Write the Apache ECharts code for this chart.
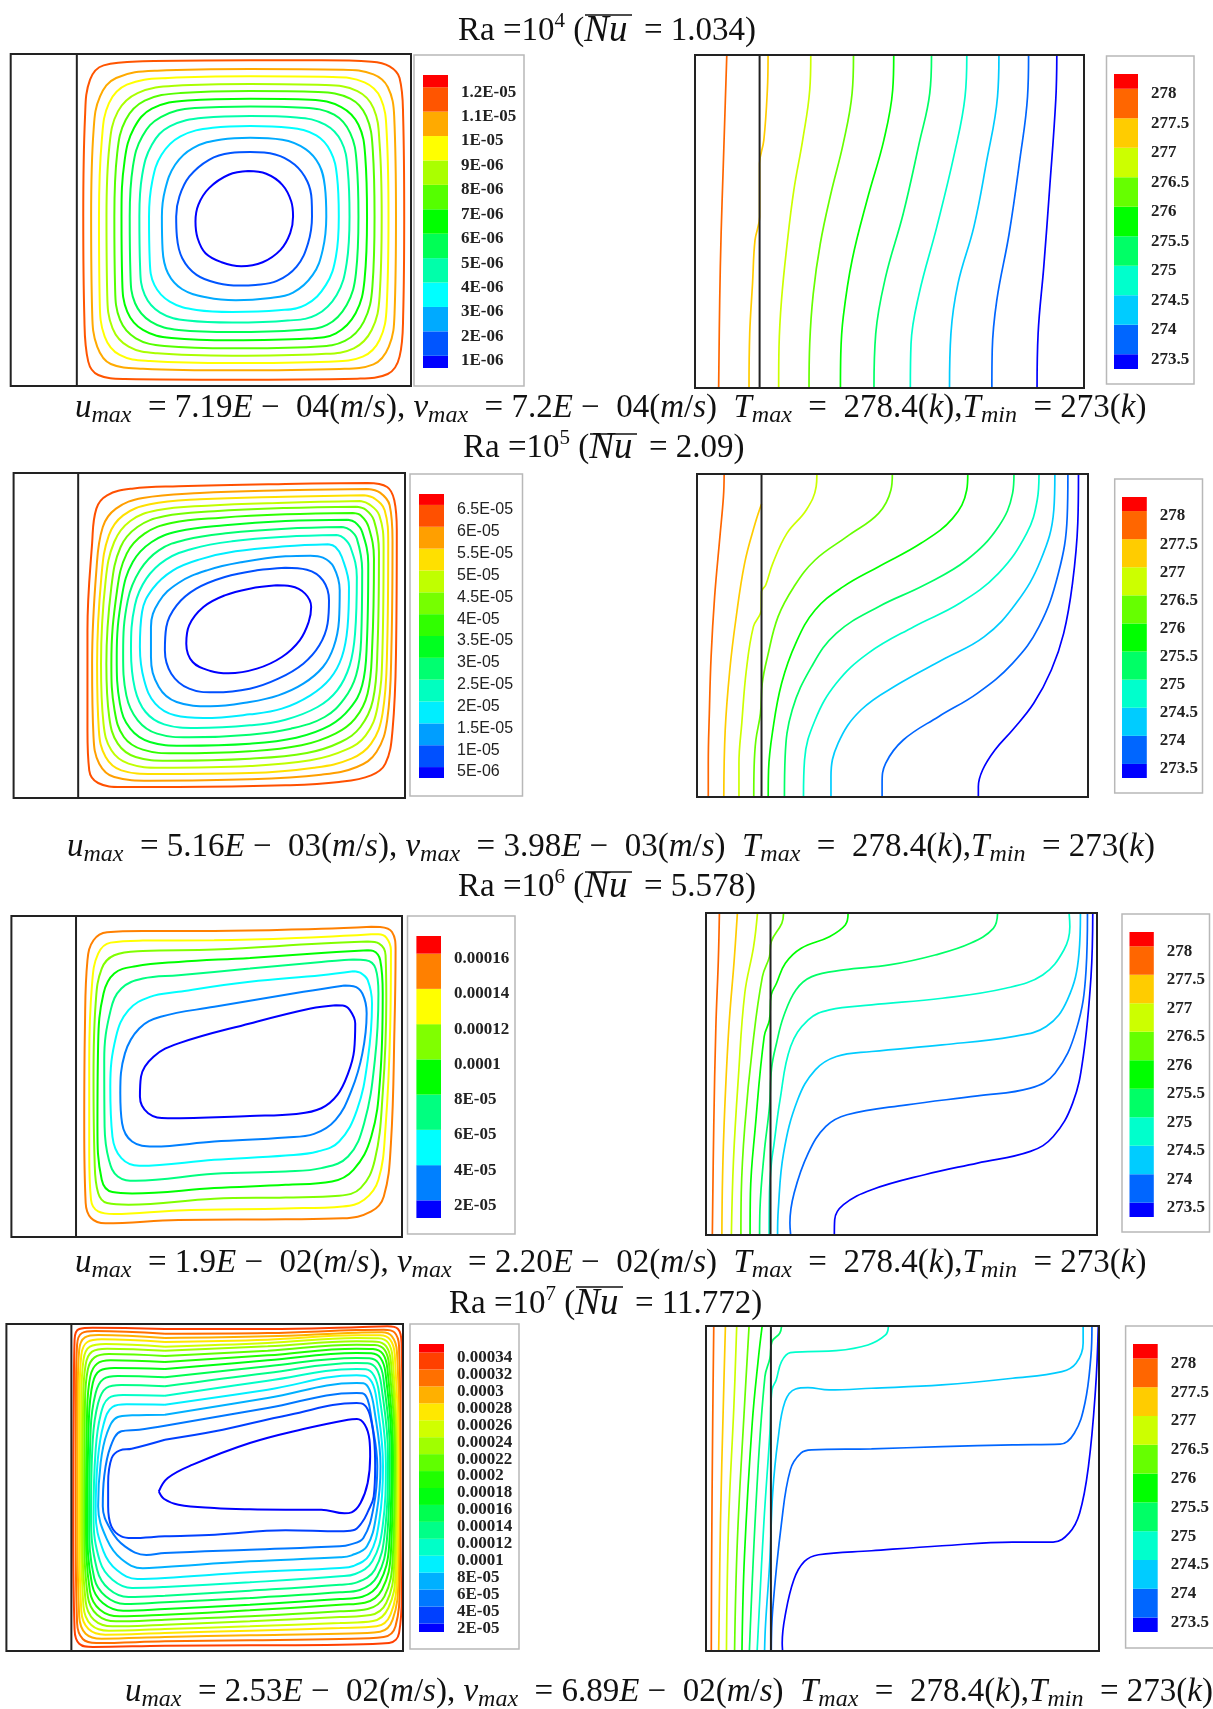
<!DOCTYPE html>
<html><head><meta charset="utf-8"><title>Streamlines and isotherms</title>
<script src="https://cdn.jsdelivr.net/npm/echarts@6/dist/echarts.min.js"></script>
<style>html,body{margin:0;padding:0;background:#fff}#c{width:1213px;height:1709px}</style></head>
<body><div id="c"></div>
<script>
// ---- contour data (arbitrary read-off units, y grows downward) ----
const stream1 = [
[[700,182],[900,182],[1040,186],[1090,200],[1118,235],[1128,350],[1131,650],[1128,950],[1118,1070],[1085,1122],[1000,1136],[650,1139],[350,1137],[275,1125],[247,1085],[236,950],[233,650],[238,350],[252,240],[290,197],[400,185],[700,182]],
[[700,208],[960,210],[1045,224],[1085,262],[1103,350],[1108,650],[1104,940],[1088,1040],[1045,1093],[950,1107],[650,1111],[400,1106],[310,1092],[272,1040],[258,940],[255,650],[262,390],[280,290],[325,235],[440,213],[700,208]],
[[700,230],[930,232],[1020,248],[1065,295],[1082,400],[1087,650],[1082,920],[1062,1020],[1015,1070],[920,1085],[650,1089],[420,1083],[335,1065],[293,1010],[279,900],[277,650],[285,420],[305,310],[355,255],[470,235],[700,230]],
[[700,253],[910,256],[1000,274],[1045,325],[1062,430],[1068,650],[1062,890],[1040,990],[990,1045],[900,1062],[650,1067],[440,1060],[360,1040],[315,985],[300,880],[298,650],[306,440],[330,335],[385,280],[490,258],[700,253]],
[[700,274],[890,277],[980,297],[1025,350],[1043,450],[1048,650],[1042,860],[1018,965],[965,1023],[880,1040],[650,1045],[460,1038],[380,1015],[336,960],[322,860],[320,650],[328,460],[352,360],[405,303],[505,280],[700,274]],
[[700,297],[870,300],[955,322],[1003,375],[1022,470],[1027,650],[1020,840],[995,940],[940,1000],[860,1016],[650,1021],[480,1014],[400,990],[356,935],[342,840],[340,650],[349,480],[375,385],[425,327],[525,302],[700,297]],
[[700,320],[850,324],[935,345],[980,400],[998,490],[1003,650],[996,820],[970,915],[915,975],[835,990],[650,996],[500,990],[422,965],[378,910],[365,820],[363,650],[372,500],[398,410],[450,352],[545,325],[700,320]],
[[700,349],[830,353],[910,375],[955,425],[973,510],[978,650],[970,790],[942,885],[885,945],[805,962],[650,968],[525,962],[448,938],[405,885],[392,800],[390,650],[398,525],[425,435],[475,380],[570,354],[700,349]],
[[700,379],[810,384],[885,407],[925,455],[943,530],[948,650],[940,770],[912,855],[855,915],[780,931],[650,936],[550,930],[475,905],[432,855],[419,780],[417,650],[426,545],[452,465],[505,410],[595,384],[700,379]],
[[700,414],[790,420],[855,448],[893,495],[909,560],[913,650],[903,750],[875,825],[820,878],[750,895],[660,901],[580,893],[510,868],[470,820],[455,750],[453,650],[462,570],[490,495],[540,445],[620,419],[700,414]],
[[700,457],[770,464],[825,495],[860,545],[872,600],[873,650],[862,730],[830,800],[775,843],[715,855],[670,857],[610,850],[550,825],[510,775],[495,710],[493,650],[502,590],[530,530],[585,480],[645,460],[700,457]],
[[695,514],[745,522],[790,555],[815,605],[820,650],[812,700],[785,750],[735,787],[675,799],[620,787],[575,760],[553,715],[547,665],[555,615],[585,565],[640,525],[695,514]]
];
const temp1 = [
[[190,167],[186,300],[180,500],[174,700],[170,900],[167,1162]],
[[307,167],[305,270],[295,420],[283,490],[283,650],[270,720],[263,850],[255,1000],[253,1162]],
[[428,167],[425,270],[405,420],[380,570],[360,740],[345,900],[338,1040],[337,1162]],
[[549,167],[545,280],[520,430],[485,580],[455,730],[435,880],[425,1030],[423,1162]],
[[663,167],[660,270],[635,420],[590,590],[545,780],[520,950],[513,1060],[512,1162]],
[[770,167],[765,280],[735,430],[690,640],[640,830],[612,1000],[607,1162]],
[[870,167],[865,290],[835,460],[785,680],[735,880],[712,1030],[710,1162]],
[[961,167],[957,290],[925,490],[890,680],[845,850],[825,1000],[821,1162]],
[[1045,167],[1042,290],[1020,480],[990,700],[955,900],[942,1050],[941,1162]],
[[1125,167],[1122,300],[1105,560],[1088,800],[1072,1000],[1069,1162]]
];
const stream2 = [
[[1030,158],[800,161],[500,168],[370,175],[300,195],[270,235],[258,340],[245,600],[245,900],[250,1020],[275,1058],[340,1070],[500,1070],[800,1065],[950,1055],[1040,1035],[1080,1000],[1100,900],[1110,650],[1112,300],[1105,210],[1085,170],[1030,158]],
[[1030,176],[800,180],[560,188],[400,203],[325,235],[288,290],[270,420],[258,700],[262,920],[278,1000],[320,1040],[420,1051],[700,1047],[900,1033],[1000,1010],[1055,965],[1085,870],[1097,650],[1100,330],[1092,225],[1065,187],[1030,176]],
[[1020,195],[800,199],[560,207],[420,222],[345,255],[305,315],[284,440],[272,700],[277,900],[296,980],[340,1020],[430,1031],[700,1028],[880,1012],[985,985],[1040,940],[1072,850],[1085,650],[1088,340],[1078,240],[1050,205],[1020,195]],
[[1010,212],[800,217],[580,226],[440,240],[365,272],[320,335],[296,450],[283,700],[290,880],[312,960],[360,1000],[450,1012],[700,1007],[870,990],[970,958],[1025,915],[1058,830],[1072,650],[1075,350],[1063,255],[1035,222],[1010,212]],
[[1000,229],[800,233],[600,243],[460,258],[385,290],[338,350],[312,470],[298,700],[306,860],[330,940],[380,980],[470,991],[700,985],[860,968],[955,935],[1010,890],[1045,810],[1058,650],[1062,365],[1048,270],[1025,238],[1000,229]],
[[990,248],[800,252],[620,262],[480,278],[405,310],[355,370],[328,480],[312,700],[321,840],[347,920],[400,958],[490,969],[700,963],[845,945],[940,910],[995,865],[1030,790],[1043,650],[1048,385],[1033,290],[1012,256],[990,248]],
[[975,268],[800,272],[630,285],[500,303],[425,335],[372,395],[342,495],[327,680],[336,820],[365,895],[420,935],[510,946],[700,940],[830,922],[925,885],[980,835],[1015,765],[1028,640],[1032,400],[1015,305],[995,276],[975,268]],
[[960,290],[800,295],[640,308],[520,328],[445,360],[392,420],[358,510],[345,670],[354,795],[386,870],[440,910],[530,921],[700,913],[815,895],[910,860],[965,805],[998,735],[1012,630],[1015,420],[1000,325],[980,298],[960,290]],
[[945,314],[800,319],[650,333],[540,355],[465,388],[410,445],[378,525],[367,660],[378,775],[408,845],[460,882],[550,893],[700,885],[800,868],[890,830],[945,780],[980,705],[995,610],[1000,440],[982,350],[962,322],[945,314]],
[[920,342],[800,348],[660,363],[560,387],[485,420],[428,475],[398,545],[392,650],[404,750],[435,820],[490,855],[570,863],[700,852],[790,835],[870,795],[925,745],[958,680],[974,590],[978,470],[958,380],[940,350],[920,342]],
[[870,376],[800,378],[680,395],[580,420],[500,458],[445,515],[423,590],[423,680],[445,770],[495,815],[590,828],[700,815],[780,795],[850,760],[905,710],[935,650],[950,570],[952,480],[935,410],[905,382],[870,376]],
[[800,412],[720,420],[630,440],[550,475],[495,525],[466,590],[462,660],[480,730],[530,775],[600,786],[700,775],[780,745],[850,700],[895,645],[918,580],[922,510],[905,450],[860,418],[800,412]],
[[775,465],[700,475],[630,495],[570,530],[530,585],[522,640],[540,695],[590,722],[640,729],[720,715],[790,680],[840,630],[865,575],[872,530],[855,490],[815,468],[775,465]]
];
const temp2 = [
[[182,134],[180,200],[170,320],[155,500],[145,680],[140,850],[137,1000],[137,1100]],
[[288,222],[270,280],[240,400],[215,570],[198,720],[185,900],[181,1100]],
[[445,134],[443,170],[415,240],[360,310],[320,400],[300,465],[288,485],[287,540],[265,590],[245,720],[232,880],[224,1000],[224,1100]],
[[659,134],[655,180],[620,250],[530,320],[440,390],[380,470],[335,560],[305,680],[290,760],[285,850],[272,930],[267,1010],[266,1100]],
[[873,134],[870,180],[830,265],[740,340],[620,410],[520,470],[440,540],[385,640],[345,760],[320,900],[308,1020],[307,1100]],
[[1004,134],[1000,190],[960,290],[870,390],[750,465],[620,530],[500,610],[430,710],[375,840],[355,980],[353,1100]],
[[1075,134],[1070,210],[1040,310],[960,430],[850,520],[720,590],[590,670],[500,760],[440,870],[410,990],[407,1100]],
[[1120,134],[1117,240],[1080,390],[1010,520],[920,620],[800,690],[680,760],[570,840],[505,940],[485,1040],[485,1100]],
[[1157,134],[1155,260],[1130,430],[1075,590],[1000,700],[900,790],[790,860],[690,930],[640,1000],[630,1060],[630,1100]],
[[1187,134],[1185,280],[1170,460],[1145,610],[1110,720],[1060,820],[1000,900],[950,960],[915,1020],[903,1070],[903,1100]]
];
const stream3 = [
[[1040,199],[900,205],[600,212],[400,212],[300,216],[262,240],[245,300],[238,500],[236,800],[240,1030],[255,1075],[295,1091],[500,1081],[800,1079],[960,1076],[1040,1055],[1075,1010],[1095,850],[1105,500],[1108,270],[1098,215],[1065,200],[1040,199]],
[[1040,222],[900,230],[600,240],[400,241],[310,247],[275,280],[258,370],[250,600],[250,880],[255,1020],[275,1055],[320,1063],[500,1052],[800,1046],[960,1040],[1020,1020],[1060,960],[1080,800],[1093,500],[1095,270],[1082,232],[1060,222],[1040,222]],
[[1030,244],[900,250],[600,268],[400,272],[320,285],[285,325],[268,430],[262,650],[265,900],[275,1000],[300,1030],[360,1035],[600,1017],[800,1013],[950,1008],[1010,985],[1050,900],[1072,700],[1082,420],[1080,285],[1062,250],[1030,244]],
[[1030,270],[900,278],[700,293],[500,305],[380,318],[320,340],[290,400],[275,550],[273,800],[285,960],[315,997],[370,1001],[600,985],[800,975],[930,965],[990,930],[1040,830],[1065,650],[1072,400],[1065,300],[1045,272],[1030,270]],
[[990,298],[900,305],[700,325],[500,345],[400,355],[340,385],[310,450],[292,600],[293,800],[305,900],[330,950],[380,963],[600,942],[800,935],[900,925],[975,890],[1020,790],[1050,600],[1060,400],[1052,325],[1025,300],[990,298]],
[[990,333],[900,345],[700,365],[500,395],[420,410],[360,450],[325,530],[309,680],[315,830],[340,895],[390,918],[600,900],[800,887],[890,875],[950,845],[1000,750],[1030,600],[1042,430],[1030,360],[1010,338],[990,333]],
[[965,376],[850,395],[600,440],[450,470],[390,505],[350,580],[337,700],[342,790],[370,845],[430,860],[600,845],[800,833],[880,822],[940,780],[985,690],[1015,580],[1027,460],[1015,400],[990,378],[965,376]],
[[940,435],[870,445],[700,490],[500,550],[430,590],[395,650],[392,710],[415,760],[470,775],[700,768],[830,762],[900,745],[945,705],[975,640],[992,570],[995,490],[980,450],[960,436],[940,435]]
];
const temp3 = [
[[168,160],[165,300],[158,500],[152,800],[148,1125]],
[[219,160],[210,300],[195,500],[183,750],[177,950],[175,1125]],
[[276,160],[265,260],[240,400],[222,650],[208,900],[202,1125]],
[[350,160],[345,190],[315,245],[310,290],[290,350],[262,560],[240,800],[230,1000],[229,1125]],
[[533,160],[525,195],[480,230],[400,265],[355,310],[330,370],[315,405],[310,480],[295,530],[270,800],[256,1000],[255,1125]],
[[957,160],[945,205],[880,250],[780,285],[650,315],[520,330],[430,350],[385,390],[350,470],[330,550],[316,625],[310,740],[295,880],[283,1050],[282,1125]],
[[1160,160],[1162,200],[1145,270],[1085,345],[980,385],[800,415],[600,435],[480,450],[420,480],[370,560],[340,720],[322,860],[316,905],[310,1000],[309,1125]],
[[1192,160],[1188,280],[1155,420],[1095,500],[1000,530],[800,555],[600,575],[500,590],[440,630],[390,720],[350,880],[335,1050],[333,1125]],
[[1212,160],[1208,330],[1180,510],[1120,640],[1050,685],[900,708],[700,735],[530,765],[470,800],[420,880],[380,1000],[368,1090],[370,1125]],
[[1227,160],[1222,350],[1200,590],[1170,730],[1115,830],[1050,875],[900,910],[750,945],[600,990],[520,1035],[495,1080],[494,1125]]
];
const stream4 = [
[[462,118],[750,118],[999,113],[1085,110],[1115,118],[1125,160],[1128,500],[1126,900],[1118,1030],[1090,1060],[952,1065],[700,1067],[462,1068],[260,1072],[222,1062],[209,1020],[205,700],[207,300],[209,150],[222,118],[260,114],[462,118]],
[[462,132],[750,130],[999,121],[1075,120],[1105,128],[1118,170],[1122,500],[1120,880],[1108,1010],[1075,1042],[952,1048],[700,1052],[462,1055],[270,1060],[232,1048],[216,1000],[212,700],[213,300],[216,165],[230,130],[265,124],[462,132]],
[[462,145],[750,140],[999,129],[1070,128],[1098,140],[1112,185],[1119,500],[1116,870],[1100,990],[1065,1026],[952,1032],[700,1037],[462,1042],[285,1047],[240,1032],[222,980],[217,700],[218,300],[222,180],[238,143],[275,136],[462,145]],
[[462,157],[750,150],[999,137],[1065,137],[1093,150],[1106,195],[1116,500],[1112,860],[1094,975],[1055,1010],[952,1015],[700,1023],[462,1030],[295,1035],[248,1018],[228,965],[222,700],[223,320],[228,195],[245,157],[285,149],[462,157]],
[[462,171],[750,160],[999,145],[1060,146],[1088,160],[1100,205],[1112,500],[1108,850],[1088,955],[1045,994],[952,1000],[700,1010],[462,1018],[305,1023],[255,1005],[234,950],[227,700],[228,330],[234,210],[252,171],[295,163],[462,171]],
[[462,183],[750,170],[999,155],[1055,156],[1082,170],[1095,215],[1109,500],[1104,830],[1082,940],[1038,976],[952,982],[700,995],[462,1005],[315,1010],[263,990],[240,935],[231,700],[233,340],[240,225],[258,186],[300,177],[462,183]],
[[462,199],[750,183],[999,165],[1050,166],[1077,180],[1090,225],[1106,500],[1100,810],[1077,920],[1030,958],[952,965],[700,980],[462,990],[325,995],[272,975],[246,920],[236,700],[238,350],[246,240],[265,203],[305,193],[462,199]],
[[462,217],[750,197],[999,177],[1045,178],[1072,192],[1085,235],[1101,500],[1095,790],[1070,900],[1022,939],[952,945],[700,962],[462,975],[335,980],[280,960],[252,905],[241,700],[244,370],[253,260],[272,222],[310,212],[462,217]],
[[462,238],[750,212],[999,190],[1040,191],[1066,205],[1080,250],[1097,500],[1090,770],[1063,880],[1015,921],[952,928],[700,945],[462,958],[345,963],[288,940],[258,885],[245,700],[249,390],[260,280],[280,243],[320,235],[462,238]],
[[462,263],[750,230],[999,205],[1035,206],[1060,220],[1074,265],[1092,500],[1084,750],[1057,860],[1008,901],[952,908],[700,925],[462,938],[350,943],[296,920],[264,865],[250,700],[254,420],[268,310],[290,268],[330,259],[462,263]],
[[462,290],[750,250],[999,220],[1030,221],[1055,238],[1068,285],[1087,500],[1078,730],[1050,840],[1000,878],[952,885],[700,903],[462,918],[360,922],[305,898],[272,840],[255,680],[260,450],[275,340],[298,295],[340,286],[462,290]],
[[462,318],[750,273],[999,238],[1025,239],[1048,258],[1062,310],[1081,520],[1072,710],[1043,815],[995,853],[952,860],[700,878],[462,892],[370,895],[315,870],[280,815],[262,680],[268,480],[282,375],[305,325],[345,316],[462,318]],
[[462,345],[750,300],[999,257],[1020,258],[1042,278],[1055,330],[1073,530],[1063,690],[1035,795],[990,829],[952,835],[700,848],[462,865],[385,868],[328,842],[290,785],[268,670],[274,510],[290,405],[315,352],[355,344],[462,345]],
[[462,375],[750,325],[999,280],[1018,281],[1035,300],[1048,355],[1066,530],[1055,670],[1028,770],[985,797],[952,803],[700,815],[462,832],[400,836],[340,808],[300,750],[275,650],[282,520],[300,430],[330,382],[370,377],[462,375]],
[[462,408],[750,355],[999,310],[1015,311],[1030,330],[1040,385],[1057,530],[1047,650],[1018,745],[980,765],[952,770],[700,780],[462,790],[410,796],[350,770],[310,720],[288,650],[292,560],[310,470],[340,425],[390,420],[462,408]],
[[462,450],[602,425],[812,375],[999,340],[1020,345],[1036,375],[1048,450],[1051,530],[1047,620],[1031,665],[1013,700],[989,722],[952,725],[800,722],[602,735],[462,740],[369,745],[340,740],[312,710],[303,650],[303,580],[313,505],[336,482],[369,477],[462,450]],
[[445,605],[470,565],[540,525],[700,460],[850,418],[975,390],[1000,388],[1022,405],[1035,450],[1037,500],[1030,580],[1010,640],[985,668],[965,671],[900,660],[800,660],[700,659],[600,655],[500,645],[460,628],[445,605]]
];
const temp4 = [
[[153,110],[150,400],[147,800],[146,1083]],
[[186,110],[180,350],[172,700],[167,1083]],
[[218,110],[210,350],[195,700],[189,1083]],
[[253,110],[240,350],[220,750],[212,1083]],
[[290,110],[280,200],[262,400],[240,800],[233,1083]],
[[345,110],[340,130],[318,155],[312,205],[298,260],[275,600],[254,1083]],
[[648,110],[640,135],[590,165],[500,182],[420,185],[370,188],[345,215],[330,270],[318,300],[312,430],[295,700],[276,1083]],
[[1200,110],[1200,160],[1180,220],[1140,245],[1000,265],[800,285],[600,295],[480,300],[420,293],[385,297],[355,335],[335,450],[320,610],[312,810],[300,1000],[297,1083]],
[[1225,110],[1222,200],[1205,340],[1175,430],[1135,463],[1000,465],[800,470],[600,477],[430,480],[400,490],[370,540],[345,700],[320,960],[316,1083]],
[[1243,110],[1235,300],[1215,530],[1190,670],[1160,730],[1115,757],[1000,757],[800,768],[600,783],[450,795],[410,815],[380,870],[355,980],[347,1060],[348,1083]]
];

// ---- colour-bar levels and tick labels ----
const levels1 = [1e-6,2e-6,3e-6,4e-6,5e-6,6e-6,7e-6,8e-6,9e-6,1e-5,1.1e-5,1.2e-5];
const labels1 = ['1E-06','2E-06','3E-06','4E-06','5E-06','6E-06','7E-06','8E-06','9E-06','1E-05','1.1E-05','1.2E-05'];
const levels2 = [5e-6,1e-5,1.5e-5,2e-5,2.5e-5,3e-5,3.5e-5,4e-5,4.5e-5,5e-5,5.5e-5,6e-5,6.5e-5];
const labels2 = ['5E-06','1E-05','1.5E-05','2E-05','2.5E-05','3E-05','3.5E-05','4E-05','4.5E-05','5E-05','5.5E-05','6E-05','6.5E-05'];
const levels3 = [2e-5,4e-5,6e-5,8e-5,1e-4,1.2e-4,1.4e-4,1.6e-4];
const labels3 = ['2E-05','4E-05','6E-05','8E-05','0.0001','0.00012','0.00014','0.00016'];
const levels4 = [2e-5,4e-5,6e-5,8e-5,1e-4,1.2e-4,1.4e-4,1.6e-4,1.8e-4,2e-4,2.2e-4,2.4e-4,2.6e-4,2.8e-4,3e-4,3.2e-4,3.4e-4];
const labels4 = ['2E-05','4E-05','6E-05','8E-05','0.0001','0.00012','0.00014','0.00016','0.00018','0.0002','0.00022','0.00024','0.00026','0.00028','0.0003','0.00032','0.00034'];
const levelsT = [273.5,274,274.5,275,275.5,276,276.5,277,277.5,278];
const labelsT = ['273.5','274','274.5','275','275.5','276','276.5','277','277.5','278'];

const colors1 = ['#0000ff','#0055ff','#00aaff','#00ffff','#00ffaa','#00ff55','#00ff00','#55ff00','#aaff00','#ffff00','#ffaa00','#ff5500','#ff0000'];
const colors2 = ['#0000ff','#0050ff','#009eff','#00eeff','#00ffc0','#00ff70','#00ff20','#30ff00','#76ff00','#c0ff00','#ffe000','#ff9f00','#ff5000','#ff0000'];
const colors3 = ['#0000ff','#0080ff','#00ffff','#00ff80','#00ff00','#80ff00','#ffff00','#ff8000','#ff0000'];
const colors4 = ['#0000ff','#0040ff','#0078ff','#00b0ff','#00f0ff','#00ffc8','#00ff88','#00ff50','#00ff10','#20ff00','#60ff00','#a0ff00','#d0ff00','#ffe800','#ffb000','#ff7000','#ff4000','#ff0000'];
const colorsT = ['#0000ff','#0066ff','#00ccff','#00ffcc','#00ff66','#00ff00','#66ff00','#ccff00','#ffcc00','#ff6600','#ff0000'];

// ---- layout: plots as [left,top,right,bottom], read-off extents, wall position ----
const panels = [
 {lines:stream1,cols:colors1,px:[10.7,54,411,386],ext:[30,1150,163,1158],wall:215},
 {lines:temp1,cols:colorsT,px:[695,55,1084,388],ext:[100,1202,165,1163],wall:283},
 {lines:stream2,cols:colors2,px:[13.6,473,405,798],ext:[38,1135,128,1103],wall:219},
 {lines:temp2,cols:colorsT,px:[697,474,1088,797],ext:[105,1214,132,1101],wall:288},
 {lines:stream3,cols:colors3,px:[11.4,916,402,1237],ext:[32,1126,167,1132],wall:213},
 {lines:temp3,cols:colorsT,px:[706,913,1097,1235],ext:[130,1239,159,1126],wall:313},
 {lines:stream4,cols:colors4,px:[6.4,1324,403,1651],ext:[18,1129,103,1084],wall:200},
 {lines:temp4,cols:colorsT,px:[706,1326,1099,1651],ext:[131,1245,108,1084],wall:315}
];
const bars = [
 {lv:levels1,lb:labels1,cols:colors1,frame:[414,55,524,386],bar:[423,75,448,368],font:'Liberation Serif',w:'bold',fs:17},
 {lv:levelsT,lb:labelsT,cols:colorsT,frame:[1106.5,56,1194,384],bar:[1114,74,1138,369],font:'Liberation Serif',w:'bold',fs:17},
 {lv:levels2,lb:labels2,cols:colors2,frame:[410,474,522.5,796],bar:[419,494,444,778],font:'Liberation Sans',w:'normal',fs:16},
 {lv:levelsT,lb:labelsT,cols:colorsT,frame:[1114.7,479,1202.5,793],bar:[1122,497,1146.8,778],font:'Liberation Serif',w:'bold',fs:17},
 {lv:levels3,lb:labels3,cols:colors3,frame:[407.5,916,515,1234],bar:[416.4,936,441,1218],font:'Liberation Serif',w:'bold',fs:17},
 {lv:levelsT,lb:labelsT,cols:colorsT,frame:[1122,914,1209.5,1232],bar:[1129.5,932,1153.8,1217],font:'Liberation Serif',w:'bold',fs:17},
 {lv:levels4,lb:labels4,cols:colors4,frame:[410,1324,519,1649],bar:[419,1344,444,1632],font:'Liberation Serif',w:'bold',fs:17},
 {lv:levelsT,lb:labelsT,cols:colorsT,frame:[1125.6,1326,1230,1648],bar:[1133,1344,1157.7,1632],font:'Liberation Serif',w:'bold',fs:17}
];

// ---- headings ----
const head = (n,nu) => `{r|Ra =10}{p|${n}}{r| (}{n|Nu}{r|  = ${nu})}`;
const headings = [
 {x:458,y:31,text:head(4,'1.034')},
 {x:463,y:448,text:head(5,'2.09')},
 {x:458,y:887,text:head(6,'5.578')},
 {x:449,y:1304,text:head(7,'11.772')}
];
const eq = (a,b,c,d) => `{i|u}{s|max}{r|  = ${a}}{i|E}{r| −  ${b}(}{i|m}{r|/}{i|s}{r|), }{i|v}{s|max}{r|  = ${c}}{i|E}{r| −  ${d}(}{i|m}{r|/}{i|s}{r|)  }{i|T}{s|max}{r|  =  278.4(}{i|k}{r|),}{i|T}{s|min}{r|  = 273(}{i|k}{r|)}`;
const notes = [
 {x:75,y:408,text:eq('7.19','04','7.2','04')},
 {x:67,y:847,text:eq('5.16','03','3.98','03')},
 {x:75,y:1263,text:eq('1.9','02','2.20','02')},
 {x:125,y:1692,text:eq('2.53','02','6.89','02')}
];
const overlines = [[585,632,15],[590,637,434],[585,632,872],[576,623,1287]];

const rich = {
 r:{fontFamily:'Liberation Serif',fontSize:33,color:'#111',lineHeight:40},
 i:{fontFamily:'Liberation Serif',fontStyle:'italic',fontSize:33,color:'#111',lineHeight:40},
 n:{fontFamily:'Liberation Serif',fontStyle:'italic',fontSize:37,color:'#111',lineHeight:40},
 s:{fontFamily:'Liberation Serif',fontStyle:'italic',fontSize:24,color:'#111',verticalAlign:'bottom'},
 p:{fontFamily:'Liberation Serif',fontSize:21,color:'#111',verticalAlign:'top'}
};
const grid=[],xAxis=[],yAxis=[],series=[],graphic=[];
panels.forEach(p=>{
 const g=grid.length;
 grid.push({left:p.px[0],top:p.px[1],width:p.px[2]-p.px[0],height:p.px[3]-p.px[1],show:true,backgroundColor:'transparent',borderColor:'#222',borderWidth:2,z:5});
 xAxis.push({type:'value',gridIndex:g,min:p.ext[0],max:p.ext[1],show:false,splitLine:{show:false}});
 yAxis.push({type:'value',gridIndex:g,min:p.ext[2],max:p.ext[3],inverse:true,show:false,splitLine:{show:false}});
 const n=p.lines.length, isT=p.cols===colorsT;
 p.lines.forEach((ln,i)=>{
  series.push({type:'line',xAxisIndex:g,yAxisIndex:g,data:ln,showSymbol:false,smooth:0.4,clip:true,silent:true,z:3,lineStyle:{color:p.cols[n-1-i],width:isT?1.7:2}});
 });
 series.push({type:'line',xAxisIndex:g,yAxisIndex:g,data:[[p.wall,p.ext[2]],[p.wall,p.ext[3]]],showSymbol:false,silent:true,z:4,lineStyle:{color:'#222',width:2}});
});
bars.forEach(b=>{
 graphic.push({type:'rect',shape:{x:b.frame[0],y:b.frame[1],width:b.frame[2]-b.frame[0],height:b.frame[3]-b.frame[1]},style:{fill:'#fff',stroke:'#b8b8b8',lineWidth:1.5},z:-1});
 const g=grid.length, step=b.lv[1]-b.lv[0], n=b.lv.length;
 grid.push({left:b.bar[0],top:b.bar[1],width:b.bar[2]-b.bar[0],height:b.bar[3]-b.bar[1],show:false});
 xAxis.push({type:'category',gridIndex:g,data:['c'],show:false});
 yAxis.push({type:'value',gridIndex:g,min:b.lv[0]-step/2,max:b.lv[n-1]+step/2,position:'right',
  axisLine:{show:false},axisTick:{show:false},splitLine:{show:false},
  axisLabel:{customValues:b.lv,margin:13,hideOverlap:false,showMinLabel:true,showMaxLabel:true,
   fontFamily:b.font,fontWeight:b.w,fontSize:b.fs,color:'#222',verticalAlign:'top',lineHeight:10,
   formatter:v=>{const k=b.lv.findIndex(q=>Math.abs(q-v)<step/10);return k<0?'':b.lb[k];}}});
 b.cols.forEach((c,i)=>{
  const t=i===0?b.lv[0]:(i<n?b.lv[i]-b.lv[i-1]:step);
  series.push({type:'bar',xAxisIndex:g,yAxisIndex:g,stack:'s'+g,barWidth:'100%',silent:true,data:[t],itemStyle:{color:c}});
 });
});
overlines.forEach(o=>graphic.push({type:'line',shape:{x1:o[0],y1:o[2],x2:o[1],y2:o[2]},style:{stroke:'#111',lineWidth:1.6},z:10}));
const title=[...headings,...notes].map(h=>({left:h.x,top:h.y-20,padding:0,text:h.text,textStyle:{rich,fontFamily:'Liberation Serif',fontSize:33,fontWeight:'normal',color:'#111'}}));
const chart=echarts.init(document.getElementById('c'),null,{renderer:'canvas'});
chart.setOption({animation:false,backgroundColor:'#fff',title,grid,xAxis,yAxis,series,graphic:{elements:graphic},tooltip:{show:false},legend:{show:false}});
</script></body></html>
